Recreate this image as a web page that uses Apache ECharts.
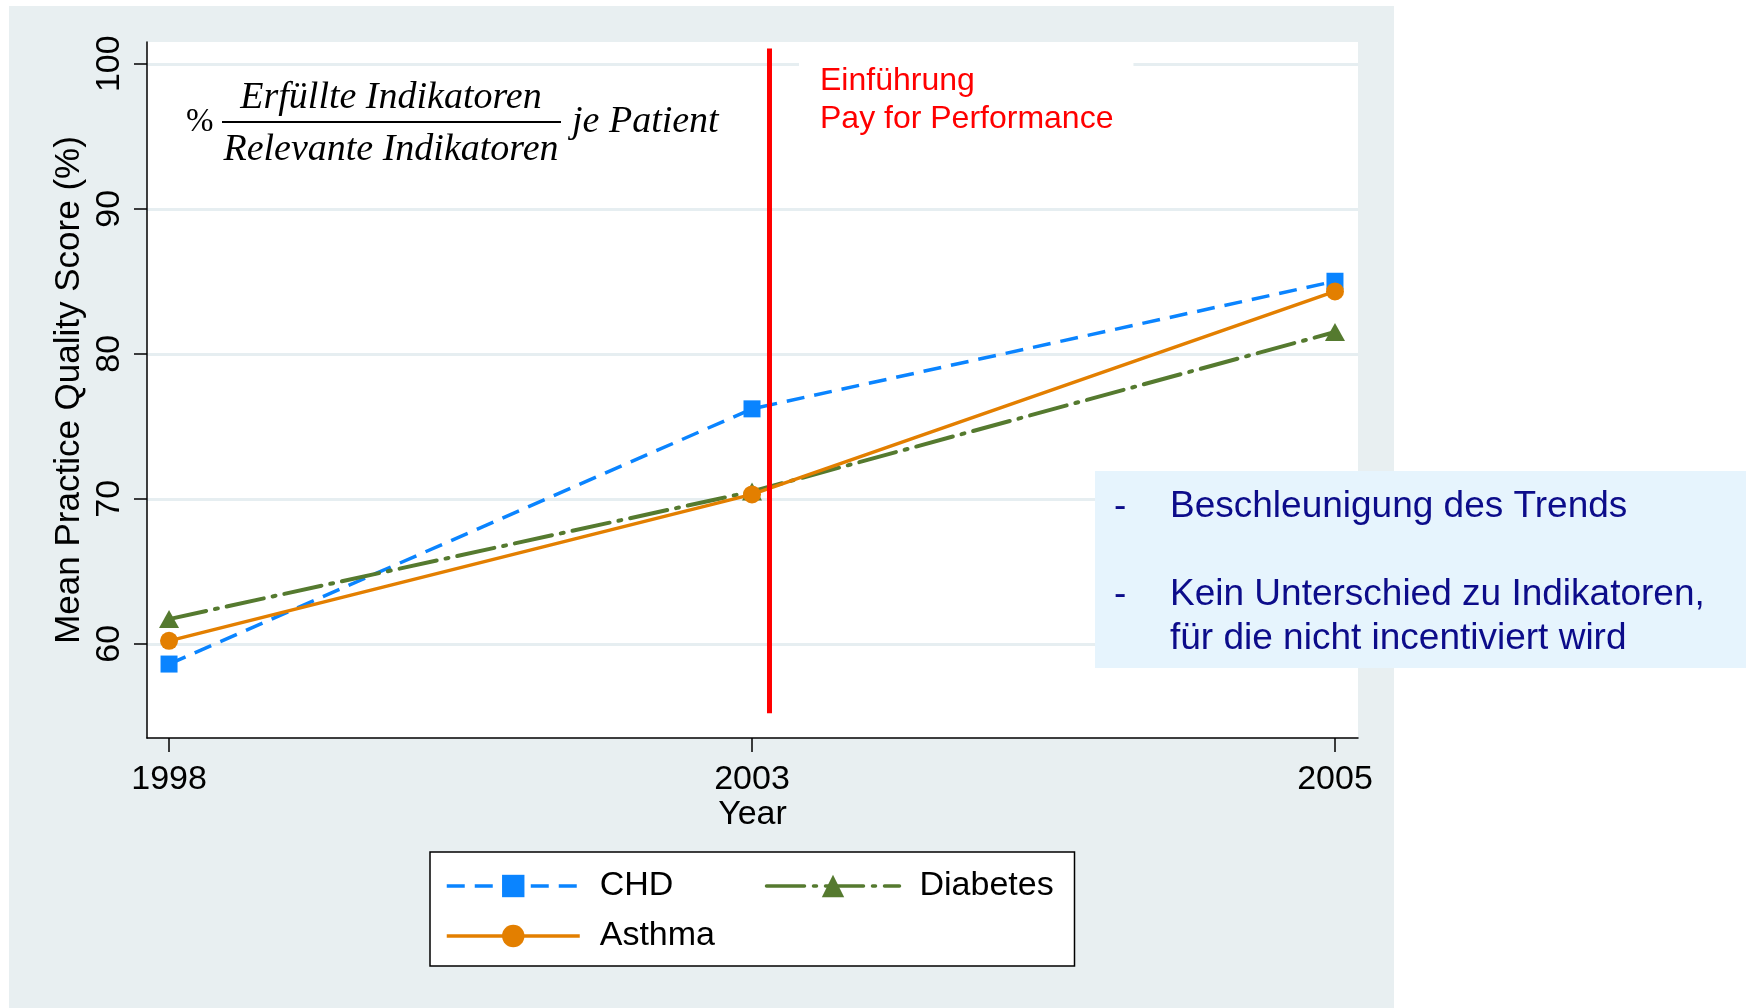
<!DOCTYPE html>
<html>
<head>
<meta charset="utf-8">
<title>Mean Practice Quality Score</title>
<script src="https://cdn.jsdelivr.net/npm/echarts@6/dist/echarts.min.js"></script>
<style>
  html, body { margin: 0; padding: 0; background: #fff; }
  #main { width: 1746px; height: 1008px; }
</style>
</head>
<body>
<div id="main"></div>
<script>
// Jahre (im Original gleichabständig aufgetragen)
var years = ['1998', '2003', '2005'];
var yTicks = [60, 70, 80, 90, 100];

// Mean Practice Quality Score (%) je Indikatorgruppe
var chd = [58.6, 76.2, 85.0];
var diabetes = [61.7, 70.5, 81.5];
var asthma = [60.2, 70.3, 84.3];

// Einführung Pay for Performance: x auf der Jahresindex-Skala, y von/bis
var p4pX = 1.03;
var p4pY = [55.2, 101.05];

var font = '"Liberation Sans", Arial, sans-serif';
var serif = '"Liberation Serif", "Times New Roman", serif';

function pairs(vals) {
  return vals.map(function (v, i) { return [i, v]; });
}

var myChart = echarts.init(document.getElementById('main'));

var option = {
  animation: false,
  backgroundColor: '#fff',
  textStyle: { fontFamily: font, color: '#000' },
  grid: {
    left: 147,
    right: 388,
    top: 42,
    bottom: 270,
    show: true,
    backgroundColor: '#fff',
    borderWidth: 0,
    outerBoundsMode: 'none'
  },
  xAxis: {
    type: 'value',
    min: -0.0378,
    max: 2.0395,
    name: 'Year',
    nameLocation: 'middle',
    nameGap: 60,
    nameMoveOverlap: false,
    nameTextStyle: { fontSize: 34, color: '#000', fontFamily: font },
    axisLine: { show: true, onZero: false, lineStyle: { color: '#000', width: 1.5 } },
    axisTick: { show: true, length: 14, customValues: [0, 1, 2], lineStyle: { color: '#000', width: 1.5 } },
    axisLabel: {
      customValues: [0, 1, 2],
      margin: 25,
      fontSize: 34,
      color: '#000',
      fontFamily: font,
      formatter: function (v) { return years[Math.round(v)]; }
    },
    splitLine: { show: false }
  },
  yAxis: {
    type: 'value',
    min: 53.5,
    max: 101.5,
    name: 'Mean Practice Quality Score (%)',
    nameLocation: 'middle',
    nameRotate: 90,
    nameGap: 60,
    nameMoveOverlap: false,
    nameTextStyle: { fontSize: 35, color: '#000', fontFamily: font },
    axisLine: { show: true, onZero: false, lineStyle: { color: '#000', width: 1.5 } },
    axisTick: { show: true, length: 13, customValues: yTicks, lineStyle: { color: '#000', width: 1.5 } },
    axisLabel: {
      customValues: yTicks,
      rotate: 90,
      margin: 20,
      fontSize: 34,
      color: '#000',
      fontFamily: font
    },
    splitLine: { show: true, lineStyle: { color: '#E6EEF1', width: 3 } }
  },
  legend: {
    data: ['CHD', 'Diabetes', 'Asthma'],
    orient: 'horizontal',
    left: 430,
    top: 852,
    width: 660,
    itemWidth: 133,
    itemHeight: 28,
    itemGap: 10,
    padding: [14, 0, 10, 15],
    backgroundColor: '#fff',
    borderColor: '#000',
    borderWidth: 1.5,
    borderRadius: 0,
    lineStyle: { width: 3.5 },
    textStyle: {
      fontSize: 34,
      color: '#000',
      fontFamily: font,
      lineHeight: 40,
      width: 155,
      padding: [0, 0, 0, 15],
      overflow: 'none'
    }
  },
  series: [
    {
      name: 'CHD',
      type: 'line',
      data: pairs(chd),
      symbol: 'rect',
      symbolSize: 17,
      itemStyle: { color: '#0A84FF' },
      lineStyle: { color: '#0A84FF', width: 3.5, type: [18, 10] },
      z: 2
    },
    {
      name: 'Diabetes',
      type: 'line',
      data: pairs(diabetes),
      symbol: 'triangle',
      symbolSize: [20, 18],
      itemStyle: { color: '#557A2F' },
      lineStyle: { color: '#557A2F', width: 4, type: [38, 9, 3, 9], cap: 'round' },
      z: 3
    },
    {
      name: 'Asthma',
      type: 'line',
      data: pairs(asthma),
      symbol: 'circle',
      symbolSize: 18,
      itemStyle: { color: '#E37F00' },
      lineStyle: { color: '#E37F00', width: 3.5 },
      z: 4
    },
    {
      name: 'P4P',
      type: 'line',
      data: [[p4pX, p4pY[0]], [p4pX, p4pY[1]]],
      symbol: 'none',
      silent: true,
      lineStyle: { color: '#FF0000', width: 5 },
      z: 5
    }
  ],
  graphic: [
    {
      type: 'rect',
      z: -10,
      silent: true,
      shape: { x: 9, y: 6, width: 1385, height: 1002 },
      style: { fill: '#E8EFF1' }
    },
    {
      type: 'text',
      z: 10,
      silent: true,
      x: 799,
      y: 54,
      style: {
        text: 'Einführung\nPay for Performance',
        font: '32px ' + font,
        fill: '#FF0000',
        lineHeight: 38,
        backgroundColor: '#fff',
        padding: [8, 20, 12, 21],
        align: 'left',
        verticalAlign: 'top'
      }
    },
    {
      type: 'text',
      z: 10,
      silent: true,
      x: 186,
      y: 122,
      style: { text: '%', font: '33px ' + serif, fill: '#000', align: 'left', verticalAlign: 'middle' }
    },
    {
      type: 'text',
      z: 10,
      silent: true,
      x: 391,
      y: 98,
      style: { text: 'Erfüllte Indikatoren', font: 'italic 38px ' + serif, fill: '#000', align: 'center', verticalAlign: 'middle' }
    },
    {
      type: 'line',
      z: 10,
      silent: true,
      shape: { x1: 222, y1: 122, x2: 561, y2: 122 },
      style: { stroke: '#000', lineWidth: 2 }
    },
    {
      type: 'text',
      z: 10,
      silent: true,
      x: 391,
      y: 150,
      style: { text: 'Relevante Indikatoren', font: 'italic 38px ' + serif, fill: '#000', align: 'center', verticalAlign: 'middle' }
    },
    {
      type: 'text',
      z: 10,
      silent: true,
      x: 572,
      y: 122,
      style: { text: 'je Patient', font: 'italic 38px ' + serif, fill: '#000', align: 'left', verticalAlign: 'middle' }
    },
    // Kommentar-Box rechts
    {
      type: 'rect',
      z: 10,
      silent: true,
      shape: { x: 1095, y: 471, width: 651, height: 197 },
      style: { fill: '#E6F4FD' }
    },
    {
      type: 'text', z: 11, silent: true, x: 1114, y: 507,
      style: { text: '-', font: '37px ' + font, fill: '#0C0C8A', align: 'left', verticalAlign: 'middle' }
    },
    {
      type: 'text', z: 11, silent: true, x: 1170, y: 507,
      style: { text: 'Beschleunigung des Trends', font: '37px ' + font, fill: '#0C0C8A', align: 'left', verticalAlign: 'middle' }
    },
    {
      type: 'text', z: 11, silent: true, x: 1114, y: 595,
      style: { text: '-', font: '37px ' + font, fill: '#0C0C8A', align: 'left', verticalAlign: 'middle' }
    },
    {
      type: 'text', z: 11, silent: true, x: 1170, y: 595,
      style: { text: 'Kein Unterschied zu Indikatoren,', font: '37px ' + font, fill: '#0C0C8A', align: 'left', verticalAlign: 'middle' }
    },
    {
      type: 'text', z: 11, silent: true, x: 1170, y: 639,
      style: { text: 'für die nicht incentiviert wird', font: '37px ' + font, fill: '#0C0C8A', align: 'left', verticalAlign: 'middle' }
    }
  ]
};

myChart.setOption(option);
</script>
</body>
</html>
